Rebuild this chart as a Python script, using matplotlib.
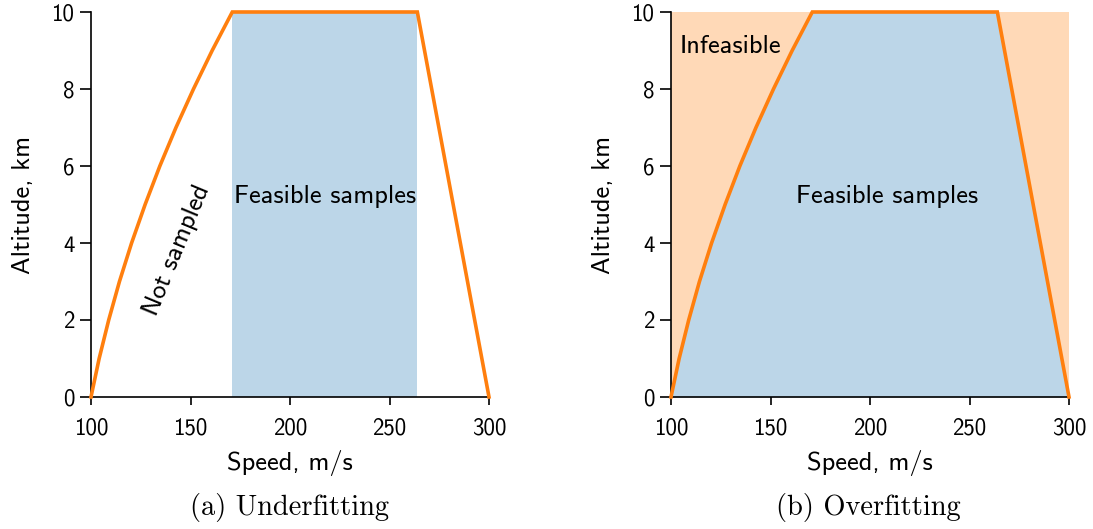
import matplotlib
matplotlib.use("Agg")
import matplotlib.pyplot as plt
import numpy as np

# ---- data ----
altitude = [0, 1, 2, 3, 4, 5, 6, 7, 8, 9, 10]                 # km
left_speed = [100, 104.1, 108.9, 114.3, 120.4, 127.2, 134.6, 142.7, 151.5, 160.9, 171.0]  # m/s
top_speed = [171.0, 264.0]          # flat top of the envelope at 10 km
right_speed_ends = [264.0, 300.0]   # right edge: from (264,10) to (300,0)
right_alt_ends = [10, 0]
feasible_band = [171.0, 264.0]      # sampled region in (a)
x_ticks = [100, 150, 200, 250, 300]
y_ticks = [0, 2, 4, 6, 8, 10]
captions = ["(a) Underfitting", "(b) Overfitting"]

C_LINE = "#ff7f0e"
C_BLUE = "#bcd6e8"
C_ORANGE = "#ffd9b7"

SANS = ["cmss10", "DejaVu Sans"]
SERIF = ["cmr10", "DejaVu Serif"]
plt.rcParams["axes.unicode_minus"] = False

fig = plt.figure(figsize=(10.93, 5.29), dpi=100)
W, H = 1093, 529
ax_l = fig.add_axes([91 / W, 1 - 397 / H, 398 / W, 385 / H])
ax_r = fig.add_axes([671 / W, 1 - 397 / H, 398 / W, 385 / H])

env_x = list(left_speed) + [top_speed[1]] + [right_speed_ends[1]]
env_y = list(altitude) + [right_alt_ends[0]] + [right_alt_ends[1]]

# right-edge speed at each altitude (straight line between its two ends)
right_speed = np.interp(altitude, right_alt_ends[::-1], right_speed_ends[::-1])

for ax in (ax_l, ax_r):
    ax.set_xlim(100, 300)
    ax.set_ylim(0, 10)
    for s in ("top", "right"):
        ax.spines[s].set_visible(False)
    for s in ("left", "bottom"):
        ax.spines[s].set_linewidth(1.2)
    ax.set_xticks(x_ticks)
    ax.set_yticks(y_ticks)
    ax.tick_params(axis="y", direction="out", length=8, width=1.2, labelsize=16.5, pad=4)
    ax.tick_params(axis="x", direction="out", length=6, width=1.2, labelsize=16.5, pad=9)
    for lab in ax.get_xticklabels() + ax.get_yticklabels():
        lab.set_family(SANS)
    ax.set_xlabel("Speed, m/s", family=SANS, fontsize=19, labelpad=7)
    ax.set_ylabel("Altitude, km", family=SANS, fontsize=19, labelpad=12)

# (a) Underfitting
ax_l.axvspan(feasible_band[0], feasible_band[1], color=C_BLUE, lw=0, zorder=0)
ax_l.plot(env_x, env_y, color=C_LINE, lw=2.6, clip_on=False, zorder=3,
          solid_joinstyle="miter")
ax_l.text(0.5 * (feasible_band[0] + feasible_band[1]), 5.2, "Feasible samples",
          family=SANS, fontsize=19, ha="center", va="center")
ax_l.text(143, 3.8, "Not sampled", family=SANS, fontsize=19, rotation=67.5,
          ha="center", va="center", rotation_mode="anchor")

# (b) Overfitting
ax_r.fill_between([100, 300], 0, 10, color=C_ORANGE, lw=0, zorder=0)
ax_r.fill_betweenx(altitude, left_speed, right_speed, color=C_BLUE, lw=0, zorder=1)
ax_r.plot(env_x, env_y, color=C_LINE, lw=2.6, clip_on=False, zorder=3,
          solid_joinstyle="miter")
ax_r.text(208.5, 5.2, "Feasible samples", family=SANS, fontsize=19,
          ha="center", va="center")
ax_r.text(104.5, 9.1, "Infeasible", family=SANS, fontsize=19,
          ha="left", va="center")

fig.text(290 / W, 1 - 507 / H, captions[0], family=SERIF, fontsize=20.5,
         ha="center", va="center")
fig.text(868 / W, 1 - 507 / H, captions[1], family=SERIF, fontsize=20.5,
         ha="center", va="center")

fig.savefig("out.png", dpi=100)
